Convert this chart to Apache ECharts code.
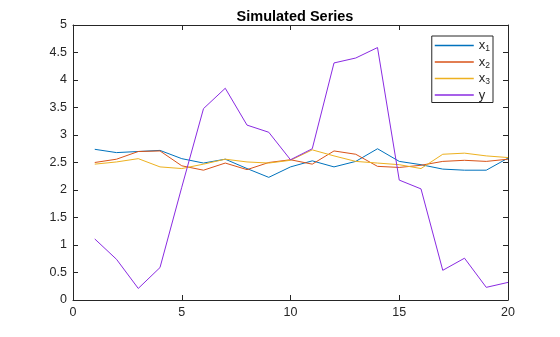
<!DOCTYPE html>
<html>
<head>
<meta charset="utf-8">
<script src="https://cdn.jsdelivr.net/npm/echarts@6/dist/echarts.min.js"></script>
<style>
  html, body { margin: 0; padding: 0; background: #fff; }
  #chart { width: 560px; height: 337px; }
</style>
</head>
<body>
<div id="chart"></div>
<script>
// Sample index 1..20
const steps = [1, 2, 3, 4, 5, 6, 7, 8, 9, 10, 11, 12, 13, 14, 15, 16, 17, 18, 19, 20];

// Predictor series
const x1 = [2.74, 2.68, 2.70, 2.72, 2.57, 2.49, 2.56, 2.39, 2.23, 2.42, 2.53, 2.42, 2.52, 2.75, 2.52, 2.46, 2.38, 2.36, 2.36, 2.58];
const x2 = [2.50, 2.56, 2.70, 2.71, 2.44, 2.36, 2.49, 2.37, 2.50, 2.55, 2.47, 2.71, 2.65, 2.43, 2.41, 2.45, 2.52, 2.54, 2.52, 2.56];
const x3 = [2.47, 2.51, 2.57, 2.42, 2.39, 2.47, 2.56, 2.51, 2.49, 2.54, 2.73, 2.62, 2.52, 2.49, 2.46, 2.39, 2.65, 2.67, 2.62, 2.59];
// Response series
const y  = [1.11, 0.74, 0.21, 0.59, 2.05, 3.48, 3.85, 3.18, 3.05, 2.55, 2.75, 4.31, 4.40, 4.59, 2.18, 2.02, 0.54, 0.76, 0.23, 0.32];

const seriesNames = ['x1', 'x2', 'x3', 'y'];
const seriesData = [x1, x2, x3, y];
const seriesColors = ['#0072BD', '#D95319', '#EDB120', '#8A2BE2'];

const axisColor = '#262626';
const font = 'Liberation Sans, Arial, Helvetica, sans-serif';

function pairs(vals) {
  return steps.map((s, i) => [s, vals[i]]);
}

function legendLabel(name) {
  if (name.length === 2) return '{b|' + name[0] + '}{s|' + name[1] + '}';
  return '{b|' + name + '}';
}

const chart = echarts.init(document.getElementById('chart'), null, { renderer: 'canvas' });

const baseAxis = {
  axisLine: { show: true, onZero: false, lineStyle: { color: axisColor, width: 1 } },
  axisTick: { show: true, inside: true, length: 5, lineStyle: { color: axisColor } },
  splitLine: { show: false },
  axisLabel: { color: axisColor, fontFamily: font, fontSize: 12.5 }
};

// short horizontal stroke used as the legend key
const legendKey = 'path://M0,4.25H40V5.75H0Z';

chart.setOption({
  animation: false,
  backgroundColor: '#ffffff',
  title: {
    text: 'Simulated Series',
    left: 290, top: 4, textAlign: 'center',
    textStyle: { fontFamily: font, fontSize: 14.5, fontWeight: 'bold', color: '#000' }
  },
  grid: { left: 73, right: 52, top: 25, bottom: 37, containLabel: false },
  xAxis: [
    Object.assign({}, baseAxis, {
      type: 'value', min: 0, max: 20, interval: 5, position: 'bottom',
      axisLabel: Object.assign({}, baseAxis.axisLabel, { margin: 6 })
    }),
    Object.assign({}, baseAxis, {
      type: 'value', min: 0, max: 20, interval: 5, position: 'top',
      axisLabel: { show: false }
    })
  ],
  yAxis: [
    Object.assign({}, baseAxis, {
      type: 'value', min: 0, max: 5, interval: 0.5, position: 'left',
      axisLabel: Object.assign({}, baseAxis.axisLabel, { margin: 6 })
    }),
    Object.assign({}, baseAxis, {
      type: 'value', min: 0, max: 5, interval: 0.5, position: 'right',
      axisLabel: { show: false }
    })
  ],
  legend: {
    data: seriesNames.map((n, i) => ({ name: n, icon: legendKey, itemStyle: { color: seriesColors[i] } })),
    orient: 'vertical',
    right: 67, top: 36,
    itemWidth: 39, itemHeight: 10, itemGap: 2,
    padding: [3, 3, 1, 3],
    backgroundColor: '#fff',
    borderColor: axisColor, borderWidth: 1, borderRadius: 0,
    formatter: legendLabel,
    textStyle: {
      color: axisColor, fontFamily: font,
      rich: {
        b: { fontSize: 13, fontFamily: font, color: axisColor },
        s: { fontSize: 8.5, fontFamily: font, color: axisColor, padding: [7, 0, 0, 0] }
      }
    }
  },
  series: seriesNames.map((n, i) => ({
    name: n,
    type: 'line',
    xAxisIndex: 0, yAxisIndex: 0,
    data: pairs(seriesData[i]),
    symbol: 'none',
    lineStyle: { color: seriesColors[i], width: 1 },
    itemStyle: { color: seriesColors[i] }
  }))
});
</script>
</body>
</html>
